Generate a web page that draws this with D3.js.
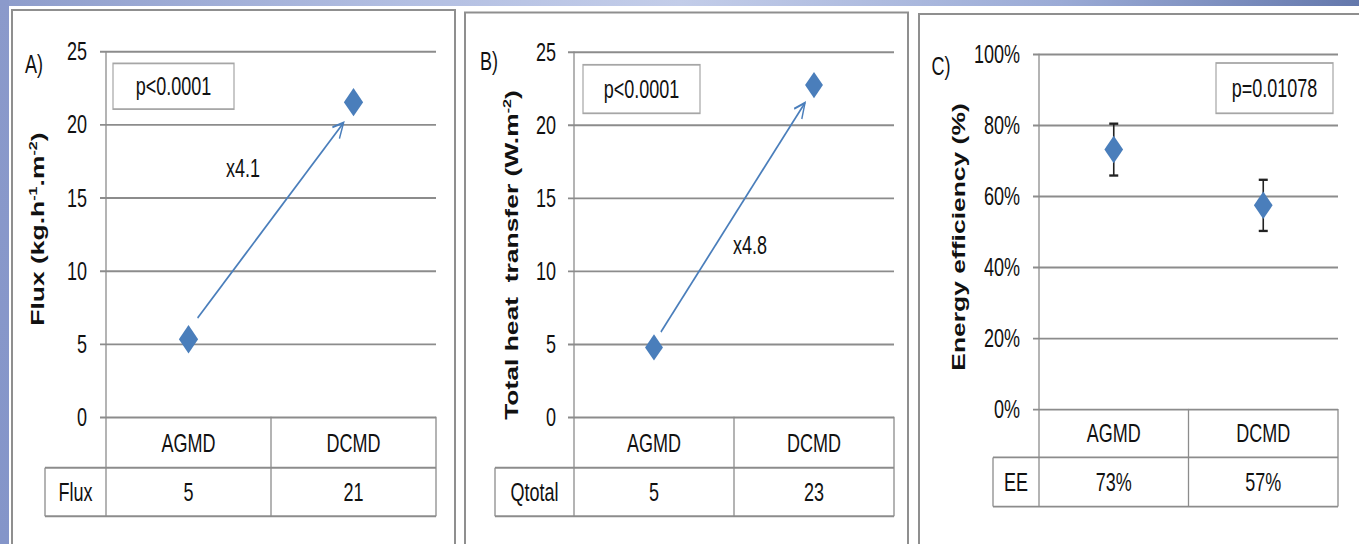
<!DOCTYPE html>
<html><head><meta charset="utf-8">
<script src="https://cdn.jsdelivr.net/npm/d3@7"></script>
<style>body{margin:0;background:#fff;overflow:hidden}svg{display:block}</style>
</head><body>
<svg id="c" width="1359" height="544"></svg>
<script>
// ---------- DATA ----------
const categories = ["AGMD", "DCMD"];
const fluxValues = [5.3, 21.5];
const fluxErrors = [0.35, 0.3];
const heatValues = [4.75, 22.7];
const heatErrors = [0.55, 0.5];
const eeValues = [0.73, 0.573];
const eeErrors = [0.073, 0.072];
const fluxTicks = [0, 5, 10, 15, 20, 25];
const heatTicks = [0, 5, 10, 15, 20, 25];
const eeTicks = [0, 0.2, 0.4, 0.6, 0.8, 1.0];
const fluxTableRow = ["5", "21"];
const heatTableRow = ["5", "23"];
const eeTableRow = ["73%", "57%"];
const tableRowLabels = ["Flux", "Qtotal", "EE"];
const panelLetters = ["A)", "B)", "C)"];
const pValues = ["p<0.0001", "p<0.0001", "p=0.01078"];
// arrows: [category-index position, value]
const fluxArrow = { from: [0.055, 6.75], to: [0.94, 20.1], label: "x4.1", labelAt: [0.33, 17.0] };
const heatArrow = { from: [0.043, 5.8], to: [0.944, 21.5], label: "x4.8", labelAt: [0.60, 11.8] };

// ---------- LAYOUT ----------
const SY = 1.47;               // vertical stretch of the original picture
const FONT = "'Liberation Sans', Arial, sans-serif";
const BLUE = "#4a7ebb";
const GRID = "#8c8c8c";

const panels = [
  { box: [12, 10, 455, 620], left: 106, right: 436, top: 51, bottom: 416.8, r1: 467.8, r2: 516.3, rowLeft: 45,
    pad: 19, fmt: d3.format("d"), ticks: fluxTicks, values: fluxValues, errors: fluxErrors, errColor: BLUE, capW: 0,
    tableRow: fluxTableRow, rowLabel: tableRowLabels[0], letter: panelLetters[0], letterAt: [34, 64],
    title: [["Flux (kg.h", 0], ["-1", 1], [".m", 0], ["-2", 1], [")", 0]], titleAt: [44, 229],
    pBox: [113, 63.4, 234, 109.1], pText: pValues[0], arrow: fluxArrow, dSize: 185 },
  { box: [465, 12.5, 908, 620], left: 574, right: 894, top: 51.5, bottom: 416.8, r1: 467.8, r2: 516.3, rowLeft: 495,
    pad: 18, fmt: d3.format("d"), ticks: heatTicks, values: heatValues, errors: heatErrors, errColor: BLUE, capW: 0,
    tableRow: heatTableRow, rowLabel: tableRowLabels[1], letter: panelLetters[1], letterAt: [489, 61],
    title: [["Total heat\u00a0 transfer (W.m", 0], ["-2", 1], [")", 0]], titleAt: [518, 255],
    pBox: [583, 64.8, 700, 113.3], pText: pValues[1], arrow: heatArrow, dSize: 160 },
  { box: [919, 14, 1400, 620], left: 1039, right: 1338, top: 53.7, bottom: 408.9, r1: 457.4, r2: 506.6, rowLeft: 993,
    pad: 19, fmt: d3.format(".0%"), ticks: eeTicks, values: eeValues, errors: eeErrors, errColor: "#222", capW: 9,
    tableRow: eeTableRow, rowLabel: tableRowLabels[2], letter: panelLetters[2], letterAt: [941, 66],
    title: [["Energy efficiency (%)", 0]], titleAt: [965, 237],
    pBox: [1216, 63, 1333, 113.3], pText: pValues[2], arrow: null, dSize: 175 }
];

const svg = d3.select("#c");
const defs = svg.append("defs");
const tg = defs.append("linearGradient").attr("id", "topGrad");
[[0, "#8d9ccb"], [0.3, "#b3bfe2"], [0.5, "#c3cde9"], [0.78, "#9babd6"], [1, "#6478ac"]]
  .forEach(([o, c]) => tg.append("stop").attr("offset", o).attr("stop-color", c));
const lg = defs.append("linearGradient").attr("id", "leftGrad").attr("x1", 0).attr("x2", 0).attr("y1", 0).attr("y2", 1);
[[0, "#8b9acb"], [1, "#8495c9"]].forEach(([o, c]) => lg.append("stop").attr("offset", o).attr("stop-color", c));
defs.append("marker").attr("id", "arrowOpen").attr("viewBox", "0 0 10 10")
  .attr("refX", 9).attr("refY", 5).attr("markerWidth", 13).attr("markerHeight", 13)
  .attr("markerUnits", "userSpaceOnUse").attr("orient", "auto")
  .append("path").attr("d", "M1,1 L9,5 L1,9").attr("fill", "none")
  .attr("stroke", BLUE).attr("stroke-width", 1.1);

svg.append("rect").attr("x", 0).attr("y", 0).attr("width", 1359).attr("height", 6).attr("fill", "url(#topGrad)");
svg.append("rect").attr("x", 0).attr("y", 0).attr("width", 9).attr("height", 544).attr("fill", "url(#leftGrad)");

panels.forEach(p => {
  svg.append("rect").attr("x", p.box[0]).attr("y", p.box[1])
    .attr("width", p.box[2] - p.box[0]).attr("height", p.box[3] - p.box[1])
    .attr("fill", "#fff").attr("stroke", "#8f8f8f").attr("stroke-width", 2);

  const g = svg.append("g").attr("transform", `scale(1,${SY})`);
  const v = a => a / SY;
  const y = d3.scaleLinear().domain([p.ticks[0], p.ticks[p.ticks.length - 1]]).range([v(p.bottom), v(p.top)]);
  const x = d3.scaleBand().domain(categories).range([p.left, p.right]);
  const cx = c => x(c) + x.bandwidth() / 2;
  const xi = d3.scaleLinear().domain([0, 1]).range([cx(categories[0]), cx(categories[1])]);

  // gridlines
  g.append("g").attr("transform", `translate(${p.left - 6},0)`)
    .call(d3.axisRight(y).tickValues(p.ticks).tickSize(p.right - p.left + 6).tickFormat(""))
    .call(s => s.select(".domain").remove())
    .selectAll("line").attr("stroke", GRID).attr("stroke-width", 1.3);
  // tick labels
  g.append("g").attr("transform", `translate(${p.left},0)`)
    .call(d3.axisLeft(y).tickValues(p.ticks).tickSize(0).tickPadding(p.pad).tickFormat(p.fmt))
    .call(s => s.select(".domain").remove())
    .selectAll("text").attr("font-size", 18).attr("font-family", FONT).attr("fill", "#111");

  // axis + table lines
  const L = (x1, y1, x2, y2) => g.append("line").attr("x1", x1).attr("y1", y1).attr("x2", x2).attr("y2", y2)
    .attr("stroke", GRID).attr("stroke-width", 1.3);
  L(p.left, y(p.ticks[p.ticks.length - 1]), p.left, v(p.r2));
  L(p.rowLeft, v(p.r1), p.right, v(p.r1));
  L(p.rowLeft, v(p.r2), p.right, v(p.r2));
  L(p.rowLeft, v(p.r1), p.rowLeft, v(p.r2));
  L(x(categories[1]), y(0), x(categories[1]), v(p.r2));
  L(p.right, y(0), p.right, v(p.r2));

  const T = (tx, ty, s, opts = {}) => g.append("text").attr("x", tx).attr("y", ty).attr("dy", "0.35em")
    .attr("text-anchor", opts.anchor || "middle").attr("font-family", FONT)
    .attr("font-size", opts.size || 18).attr("fill", "#111").text(s);

  // table text
  categories.forEach((c, i) => {
    T(cx(c), v((p.bottom + p.r1) / 2), c);
    T(cx(c), v((p.r1 + p.r2) / 2), p.tableRow[i]);
  });
  T((p.rowLeft + p.left) / 2, v((p.r1 + p.r2) / 2), p.rowLabel);

  // panel letter
  T(p.letterAt[0], v(p.letterAt[1]), p.letter);

  // y title
  const tt = g.append("text").attr("transform", `translate(${p.titleAt[0]},${v(p.titleAt[1])}) rotate(-90)`)
    .attr("text-anchor", "middle").attr("dy", "0.35em").attr("font-family", FONT)
    .attr("font-weight", "bold").attr("font-size", 18).attr("fill", "#111");
  let prevSup = 0;
  p.title.forEach(([s, sup]) => {
    const dy = sup && !prevSup ? -7 : (!sup && prevSup ? 7 : 0);
    tt.append("tspan").attr("dy", dy).attr("font-size", sup ? 11 : 18).text(s);
    prevSup = sup;
  });

  // p-value box
  g.append("rect").attr("x", p.pBox[0]).attr("y", v(p.pBox[1]))
    .attr("width", p.pBox[2] - p.pBox[0]).attr("height", v(p.pBox[3] - p.pBox[1]))
    .attr("fill", "#fff").attr("stroke", "#a6a6a6").attr("stroke-width", 1.2);
  T((p.pBox[0] + p.pBox[2]) / 2, v((p.pBox[1] + p.pBox[3]) / 2), p.pText);

  // arrow annotation
  if (p.arrow) {
    g.append("line").attr("x1", xi(p.arrow.from[0])).attr("y1", y(p.arrow.from[1]))
      .attr("x2", xi(p.arrow.to[0])).attr("y2", y(p.arrow.to[1]))
      .attr("stroke", BLUE).attr("stroke-width", 1.5).attr("marker-end", "url(#arrowOpen)");
    T(xi(p.arrow.labelAt[0]), y(p.arrow.labelAt[1]), p.arrow.label);
  }

  // error bars
  const eb = g.append("g").selectAll("g").data(categories).join("g").attr("stroke", p.errColor).attr("stroke-width", 1.6);
  eb.append("line").attr("x1", c => cx(c)).attr("x2", c => cx(c))
    .attr("y1", (c, i) => y(p.values[i] + p.errors[i])).attr("y2", (c, i) => y(p.values[i] - p.errors[i]));
  if (p.capW) {
    [1, -1].forEach(sgn => eb.append("line").attr("x1", c => cx(c) - p.capW / 2).attr("x2", c => cx(c) + p.capW / 2)
      .attr("y1", (c, i) => y(p.values[i] + sgn * p.errors[i])).attr("y2", (c, i) => y(p.values[i] + sgn * p.errors[i])));
  }
  // diamonds
  g.append("g").selectAll("path").data(categories).join("path")
    .attr("d", d3.symbol(d3.symbolSquare, p.dSize))
    .attr("transform", (c, i) => `translate(${cx(c)},${y(p.values[i])}) rotate(45)`)
    .attr("fill", BLUE);
});
</script>
</body></html>
